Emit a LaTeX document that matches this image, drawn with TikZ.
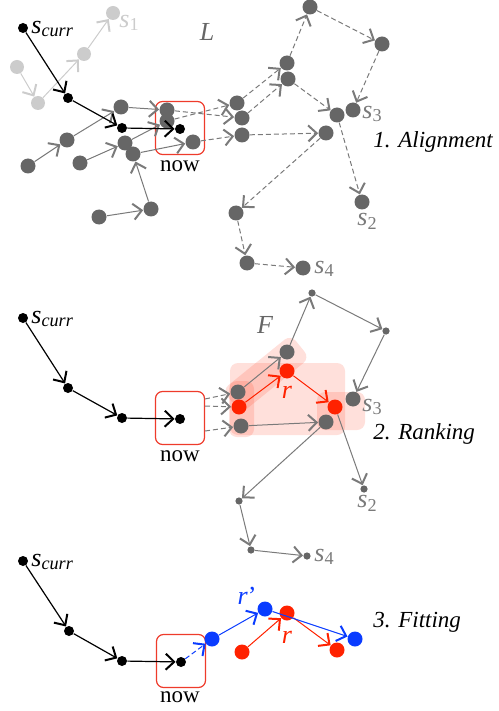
\documentclass[tikz,border=0pt]{standalone}
\usepackage{fontspec}
\setmainfont{Liberation Serif}
\usetikzlibrary{positioning, arrows.meta}
\definecolor{nodegray}{HTML}{666666}
\definecolor{edgegray}{HTML}{7A7A7A}
\definecolor{fadegray}{HTML}{CCCCCC}
\definecolor{rankred}{HTML}{FF2200}
\definecolor{fitblue}{HTML}{0A3CFF}
\definecolor{boxred}{HTML}{EE3B2B}

\begin{document}
\begin{tikzpicture}[x=0.5pt, y=-0.5pt,
    >={Straight Barb[length=4.2pt, width=8pt, line width=1pt]},
    every node/.style={inner sep=0pt},
    gnode/.style={circle, fill=nodegray, minimum size=7.5pt},
    snode/.style={circle, fill=nodegray, minimum size=3.6pt},
    bnode/.style={circle, fill=black, minimum size=5pt},
    fnode/.style={circle, fill=fadegray, minimum size=7pt},
    rnode/.style={circle, fill=rankred, minimum size=7.5pt},
    unode/.style={circle, fill=fitblue, minimum size=7.5pt},
    nowbox/.style={draw=boxred, line width=0.6pt, rounded corners=3.5pt,
                   minimum width=24.5pt, minimum height=26.5pt},
    lbl/.style={font=\fontsize{11.5}{13}\selectfont},
    slbl/.style={font=\fontsize{13}{15}\selectfont, anchor=west},
    blk/.style={->, line width=0.6pt},
    gline/.style={->, edgegray, line width=0.5pt},
    fline/.style={->, fadegray, line width=0.5pt},
    dline/.style={->, edgegray, line width=0.5pt, dash pattern=on 2.5pt off 1.5pt},
    hl/.style={fill=rankred, fill opacity=0.14, rounded corners=4pt}]
    \useasboundingbox (0,0) rectangle (498,711);

    % ---------- 1. Alignment ----------
    \node[fnode] (f1) at (17,67) {};
    \node[fnode] (f2) at (38,103) {};
    \node[fnode] (f3) at (84,54) {};
    \node[fnode] (f4) at (113,13) {};
    \draw[fline] (f1) -- (f2);
    \draw[fline] (f2) -- (f3);
    \draw[fline] (f3) -- (f4);
    \node[slbl, fadegray] (s1lab) at (119,23) {\textit{s}\textsubscript{1}};
    \node[lbl, nodegray, font=\fontsize{13}{15}\selectfont\itshape] (Llab) at (207,32) {L};

    \node[gnode] (ga) at (28,166) {};
    \node[gnode] (gb) at (67,140) {};
    \node[gnode] (gc) at (121,107) {};
    \node[gnode] (gd) at (80,163) {};
    \node[gnode] (ge) at (125,143) {};
    \node[gnode] (gf) at (133,154) {};
    \node[gnode] (gg) at (99,217) {};
    \node[gnode] (gh) at (151,209) {};
    \node[gnode] (gi) at (167,110) {};
    \node[gnode] (gj) at (167,121) {};
    \node[gnode] (gk) at (193,142) {};
    \node[gnode] (ra) at (237,103) {};
    \node[gnode] (rb) at (242,118) {};
    \node[gnode] (rc) at (242,135) {};
    \node[gnode] (rd) at (287,63) {};
    \node[gnode] (re) at (288,79) {};
    \node[gnode] (rf) at (310,7) {};
    \node[gnode] (rg) at (382,44) {};
    \node[gnode] (rh) at (337,115) {};
    \node[gnode] (ri) at (353,110) {};
    \node[gnode] (rj) at (326,133) {};
    \node[gnode] (rk) at (362,202) {};
    \node[gnode] (rl) at (236,213) {};
    \node[gnode] (rm) at (247,263) {};
    \node[gnode] (rn) at (303,268) {};

    \node[bnode] (b1) at (23,28) {};
    \node[bnode] (b2) at (68,98) {};
    \node[bnode] (b3) at (122,128) {};
    \node[bnode] (b4) at (180,129) {};
    \node[nowbox] (box1) at (180,128) {};
    \node[lbl] (now1) at (180,166) {now};
    \node[slbl] (sc1) at (31,29) {\textit{s}\textsubscript{\textit{curr}}};

    \draw[gline] (ga) -- (gb);
    \draw[gline] (gb) -- (gc);
    \draw[gline] (gc) -- (gi);
    \draw[gline] (gd) -- (ge);
    \draw[gline] (ge) -- (gj);
    \draw[gline] (gf) -- (gk);
    \draw[gline] (gg) -- (gh);
    \draw[gline] (gh) -- (gf);
    \draw[dline] (gi) -- (rb);
    \draw[dline] (gj) -- (ra);
    \draw[dline] (gk) -- (rc);
    \draw[dline] (ra) -- (rd);
    \draw[dline] (rb) -- (re);
    \draw[dline] (rd) -- (rf);
    \draw[dline] (rf) -- (rg);
    \draw[dline] (rg) -- (ri);
    \draw[dline] (re) -- (rh);
    \draw[dline] (rh) -- (rk);
    \draw[dline] (rc) -- (rj);
    \draw[dline] (rj) -- (rl);
    \draw[dline] (rl) -- (rm);
    \draw[dline] (rm) -- (rn);
    \draw[blk] (b1) -- (b2);
    \draw[blk] (b2) -- (b3);
    \draw[blk] (b3) -- (b4);

    \node[slbl, edgegray] (s3a) at (362,114) {\textit{s}\textsubscript{3}};
    \node[slbl, edgegray] (s2a) at (357,221) {\textit{s}\textsubscript{2}};
    \node[slbl, edgegray] (s4a) at (314,269) {\textit{s}\textsubscript{4}};
    \node[lbl, anchor=west, font=\fontsize{11.5}{13}\selectfont\itshape] (step1) at (373,142) {1. Alignment};

    % ---------- 2. Ranking ----------
    \fill[hl] (230,363) rectangle (345,435);
    \fill[hl] (229,381) rectangle (254,437);
    \fill[hl] (317,392) rectangle (365,430);
    \node[hl, rotate=39, minimum width=44pt, minimum height=15pt] (band) at (266,374) {};

    \node[snode] (sa) at (312,293) {};
    \node[snode] (sb) at (386,331) {};
    \node[gnode] (ta) at (287,352) {};
    \node[gnode] (tb) at (238,392) {};
    \node[gnode] (tc) at (241,426) {};
    \node[gnode] (td) at (326,422) {};
    \node[gnode] (te) at (353,399) {};
    \node[snode] (sc) at (364,489) {};
    \node[snode] (sd) at (239,501) {};
    \node[snode] (se) at (251,550) {};
    \node[snode] (sf) at (307,556) {};
    \node[rnode] (ka) at (239,407) {};
    \node[rnode] (kb) at (287,371) {};
    \node[rnode] (kc) at (335,407) {};

    \node[bnode] (c1) at (23,318) {};
    \node[bnode] (c2) at (68,388) {};
    \node[bnode] (c3) at (122,418) {};
    \node[bnode] (c4) at (180,419) {};
    \node[nowbox] (box2) at (180,418) {};
    \node[lbl] (now2) at (180,456) {now};
    \node[slbl] (sc2) at (31,319) {\textit{s}\textsubscript{\textit{curr}}};
    \coordinate (q1) at (205,399);
    \coordinate (q2) at (205,406);
    \coordinate (q3) at (205,431);

    \draw[blk] (c1) -- (c2);
    \draw[blk] (c2) -- (c3);
    \draw[blk] (c3) -- (c4);
    \draw[dline] (q1) -- (tb);
    \draw[dline] (q2) -- (ka);
    \draw[dline] (q3) -- (tc);
    \draw[gline] (tb) -- (ta);
    \draw[gline] (ta) -- (sa);
    \draw[gline] (sa) -- (sb);
    \draw[gline] (sb) -- (te);
    \draw[gline] (kc) -- (sc);
    \draw[gline] (tc) -- (td);
    \draw[gline] (td) -- (sd);
    \draw[gline] (sd) -- (se);
    \draw[gline] (se) -- (sf);
    \draw[->, rankred, line width=0.5pt] (ka) -- (kb);
    \draw[->, rankred, line width=0.5pt] (kb) -- (kc);

    \node[lbl, nodegray, font=\fontsize{13}{15}\selectfont\itshape] (Flab) at (265,325) {F};
    \node[lbl, rankred, font=\fontsize{13}{15}\selectfont\itshape] (rlab2) at (287,392) {r};
    \node[slbl, edgegray] (s3b) at (362,407) {\textit{s}\textsubscript{3}};
    \node[slbl, edgegray] (s2b) at (357,503) {\textit{s}\textsubscript{2}};
    \node[slbl, edgegray] (s4b) at (314,557) {\textit{s}\textsubscript{4}};
    \node[lbl, anchor=west, font=\fontsize{11.5}{13}\selectfont\itshape] (step2) at (373,434) {2. Ranking};

    % ---------- 3. Fitting ----------
    \node[bnode] (d1) at (23,561) {};
    \node[bnode] (d2) at (69,631) {};
    \node[bnode] (d3) at (122,661) {};
    \node[bnode] (d4) at (181,662) {};
    \node[nowbox] (box3) at (181,661) {};
    \node[lbl] (now3) at (180,697) {now};
    \node[slbl] (sc3) at (31,562) {\textit{s}\textsubscript{\textit{curr}}};

    \node[rnode] (va) at (242,652) {};
    \node[rnode] (vb) at (287,613) {};
    \node[rnode] (vc) at (337,650) {};
    \node[unode] (ua) at (212,639) {};
    \node[unode] (ub) at (265,609) {};
    \node[unode] (uc) at (355,639) {};

    \draw[blk] (d1) -- (d2);
    \draw[blk] (d2) -- (d3);
    \draw[blk] (d3) -- (d4);
    \draw[->, rankred, line width=0.5pt] (va) -- (vb);
    \draw[->, rankred, line width=0.5pt] (vb) -- (vc);
    \draw[->, fitblue, line width=0.5pt, dash pattern=on 2.5pt off 1.5pt] (d4) -- (ua);
    \draw[->, fitblue, line width=0.5pt] (ua) -- (ub);
    \draw[->, fitblue, line width=0.5pt] (ub) -- (uc);

    \node[lbl, fitblue, font=\fontsize{13}{15}\selectfont\itshape] (rlab3b) at (247,596) {r\/\upshape'};
    \node[lbl, rankred, font=\fontsize{13}{15}\selectfont\itshape] (rlab3r) at (287,637) {r};
    \node[lbl, anchor=west, font=\fontsize{11.5}{13}\selectfont\itshape] (step3) at (373,622) {3. Fitting};
\end{tikzpicture}
\end{document}
